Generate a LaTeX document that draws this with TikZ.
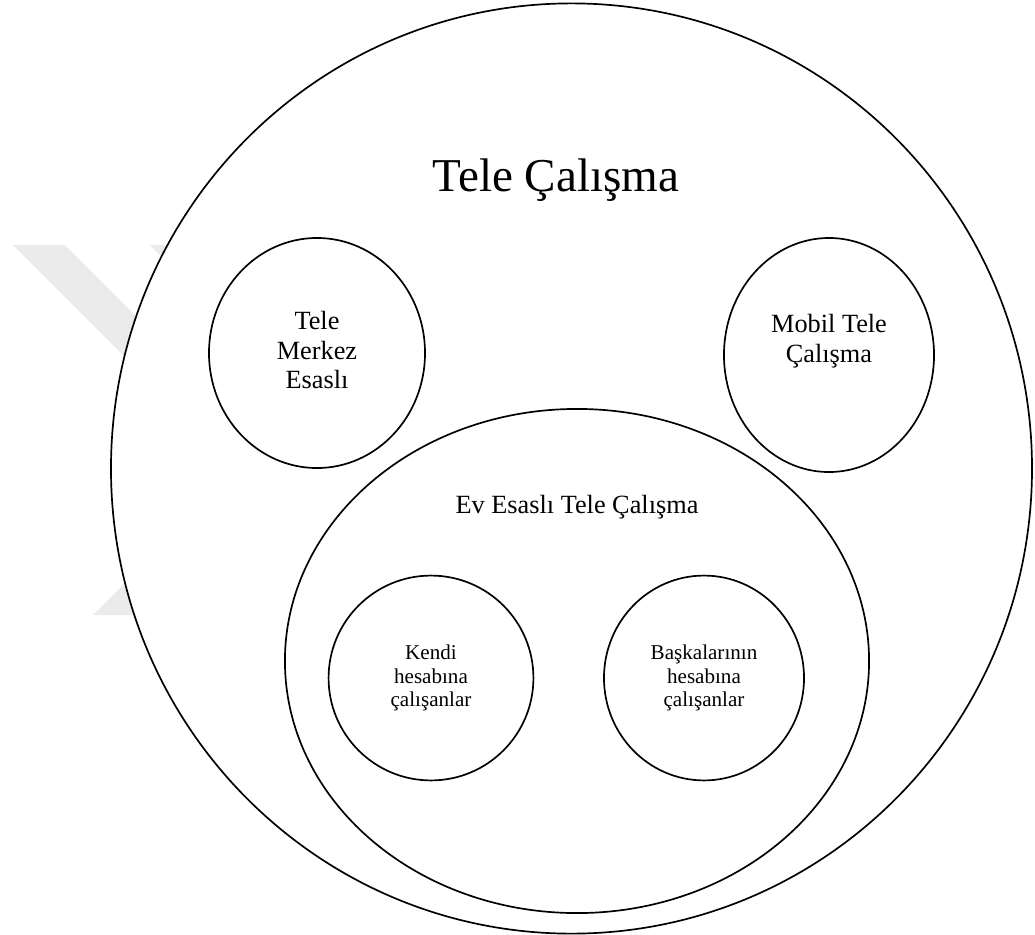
\documentclass[tikz,border=0pt]{standalone}
\usepackage{fontspec}
\setmainfont{Liberation Serif}
\usepackage{tikz}
\usetikzlibrary{shapes.geometric}

\begin{document}
\begin{tikzpicture}[x=0.025cm, y=-0.025cm,
		ring/.style={draw, ellipse, line width=1.2pt, inner sep=0pt, align=center},
		mid/.style={font=\fontsize{18.7}{21.3}\selectfont},
		small/.style={font=\fontsize{15}{17}\selectfont},
		wm/.style={fill=black!8}]
				\useasboundingbox (0,0) rectangle (1035,935);
				
				% Watermark
				\fill[wm] (13,245) -- (65,245) -- (330,510) -- (278,510) -- cycle;
				\fill[wm] (150,245) -- (200,245) -- (330,375) -- (280,375) -- cycle;
				\fill[wm] (93,615) -- (145,615) -- (330,430) -- (278,430) -- cycle;
				
				% Outer ellipse
				\node[ring, fill=white, minimum width=23.02cm, minimum height=23.25cm] (tele) at (571.5,468.5) {};
				\node[anchor=base, font=\fontsize{33.5}{40}\selectfont] (teleText) at (556,191) {Tele Çalışma};
				
				% Upper circles
				\node[ring, mid, minimum width=5.4cm, minimum height=5.75cm] (merkez) at (317,353) {};
				\node[mid, align=center] (merkezText) at (317,350) {Tele\\Merkez\\Esaslı};
				\node[ring, mid, minimum width=5.25cm, minimum height=5.85cm] (mobil) at (829,355) {};
				\node[mid, align=center] (mobilText) at (829,341) {Mobil Tele\\Çalışma};
				
				% Home based
				\node[ring, minimum width=14.6cm, minimum height=12.6cm] (ev) at (577,661) {};
				\node[anchor=base, mid] (evText) at (577,513) {Ev Esaslı Tele Çalışma};
				
				\node[ring, small, minimum width=5.12cm, minimum height=5.12cm] (kendi) at (431,678) {Kendi\\hesabına\\çalışanlar};
				\node[ring, small, minimum width=5.0cm, minimum height=5.12cm] (baska) at (704,678) {Başkalarının\\hesabına\\çalışanlar};
			\end{tikzpicture}
\end{document}
